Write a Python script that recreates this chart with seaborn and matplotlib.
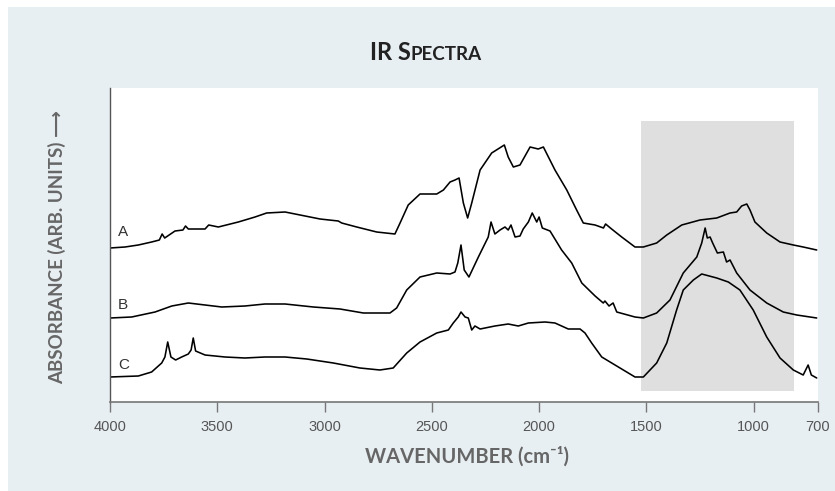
import numpy as np
import pandas as pd
import seaborn as sns
import matplotlib.pyplot as plt
from matplotlib.patches import Rectangle
from matplotlib.offsetbox import TextArea, HPacker, AnchoredOffsetbox

# spectra (wavenumber in cm-1, absorbance in arb. units, offset per trace)
wn_a = [4000, 3930, 3868, 3806, 3770, 3757, 3745, 3697, 3660, 3648, 3635, 3557, 3540, 3495, 3402, 3324, 3270,
        3184, 3114, 3021, 2936, 2920, 2850, 2757, 2672, 2648, 2610, 2555, 2477, 2446, 2415, 2392,
        2373, 2353, 2333, 2314, 2275, 2221, 2162, 2144, 2120, 2089, 2042, 2004, 1980, 1926, 1871,
        1825, 1794, 1739, 1700, 1690, 1662, 1615, 1553, 1514, 1452, 1405, 1335, 1250, 1172, 1110,
        1079, 1056, 1032, 1017, 994, 939, 877, 815, 769, 706]
abs_a = [1.54, 1.55, 1.57, 1.60, 1.62, 1.68, 1.64, 1.71, 1.72, 1.76, 1.73, 1.73, 1.77, 1.75, 1.80, 1.85, 1.89,
         1.90, 1.87, 1.83, 1.81, 1.79, 1.75, 1.70, 1.68, 1.79, 1.97, 2.08, 2.08, 2.12, 2.20, 2.22,
         2.24, 1.99, 1.84, 1.99, 2.32, 2.49, 2.57, 2.45, 2.35, 2.37, 2.55, 2.53, 2.55, 2.32, 2.12,
         1.92, 1.79, 1.77, 1.74, 1.78, 1.73, 1.65, 1.55, 1.55, 1.59, 1.67, 1.77, 1.82, 1.84, 1.89,
         1.90, 1.96, 1.98, 1.92, 1.80, 1.69, 1.60, 1.57, 1.55, 1.52]

wn_b = [4000, 3899, 3790, 3712, 3635, 3557, 3479, 3371, 3278, 3184, 3052, 2928, 2819, 2695, 2664,
        2617, 2555, 2477, 2415, 2392, 2379, 2364, 2349, 2327, 2283, 2237, 2224, 2206, 2182, 2159,
        2144, 2131, 2112, 2089, 2074, 2050, 2032, 2011, 2000, 1985, 1949, 1895, 1848, 1801, 1739,
        1701, 1693, 1674, 1655, 1638, 1553, 1514, 1452, 1390, 1328, 1265, 1242, 1226, 1216, 1203,
        1191, 1169, 1141, 1126, 1110, 1079, 1017, 939, 862, 799, 706]
abs_b = [0.84, 0.85, 0.90, 0.96, 0.99, 0.97, 0.95, 0.96, 0.98, 0.98, 0.95, 0.93, 0.89, 0.89, 0.94,
         1.12, 1.25, 1.29, 1.28, 1.30, 1.39, 1.57, 1.32, 1.25, 1.45, 1.65, 1.80, 1.68, 1.72, 1.75,
         1.72, 1.77, 1.65, 1.66, 1.73, 1.80, 1.89, 1.80, 1.85, 1.74, 1.71, 1.52, 1.39, 1.19, 1.06,
         0.99, 1.01, 0.96, 0.99, 0.90, 0.85, 0.84, 0.89, 1.02, 1.29, 1.45, 1.59, 1.74, 1.64, 1.65,
         1.59, 1.49, 1.50, 1.40, 1.42, 1.29, 1.12, 0.99, 0.90, 0.87, 0.84]

wn_c = [4000, 3868, 3806, 3759, 3744, 3731, 3716, 3694, 3666, 3635, 3622, 3612, 3601, 3557, 3464,
        3371, 3278, 3184, 3083, 2959, 2835, 2742, 2680, 2617, 2555, 2477, 2423, 2400, 2377, 2364,
        2345, 2330, 2314, 2299, 2275, 2206, 2144, 2097, 2050, 1972, 1926, 1864, 1809, 1786, 1755,
        1708, 1646, 1553, 1514, 1452, 1405, 1359, 1328, 1281, 1242, 1172, 1118, 1064, 1002, 939,
        877, 815, 769, 746, 731, 706]
abs_c = [0.25, 0.26, 0.30, 0.39, 0.45, 0.60, 0.45, 0.42, 0.45, 0.48, 0.52, 0.64, 0.51, 0.47, 0.45,
         0.44, 0.45, 0.45, 0.43, 0.39, 0.34, 0.32, 0.34, 0.49, 0.60, 0.69, 0.72, 0.79, 0.85, 0.90,
         0.85, 0.84, 0.72, 0.76, 0.73, 0.76, 0.78, 0.76, 0.79, 0.80, 0.79, 0.73, 0.73, 0.69, 0.59,
         0.45, 0.37, 0.25, 0.25, 0.39, 0.59, 0.92, 1.12, 1.22, 1.28, 1.24, 1.20, 1.12, 0.92, 0.65,
         0.44, 0.32, 0.27, 0.37, 0.27, 0.24]

labels = ["A", "B", "C"]
label_y = [1.70, 0.97, 0.37]
ticks = [4000, 3500, 3000, 2500, 2000, 1500, 1000, 700]
band = [1525, 812]  # highlighted region

df = pd.concat([
    pd.DataFrame({"wn": wn_a, "abs": abs_a, "sample": "A"}),
    pd.DataFrame({"wn": wn_b, "abs": abs_b, "sample": "B"}),
    pd.DataFrame({"wn": wn_c, "abs": abs_c, "sample": "C"}),
])

sns.set_style("white")
plt.rcParams["font.family"] = ["Liberation Sans", "DejaVu Sans"]

fig = plt.figure(figsize=(8.35, 4.91), dpi=100, facecolor="white")
# light panel behind everything
fig.patches.append(Rectangle((8 / 835, 0), 1, 1 - 7 / 491, transform=fig.transFigure,
                             facecolor="#e8eff3", edgecolor="none", zorder=-10))

ax = fig.add_axes([110 / 835, 1 - 402 / 491, 708 / 835, 314 / 491])
ax.set_facecolor("white")

ax.axvspan(band[0], band[1], ymin=0.035, ymax=0.895, color="#dfdfdf", lw=0, zorder=0)

for s in labels:
    d = df[df["sample"] == s]
    sns.lineplot(data=d, x="wn", y="abs", ax=ax, color="black", lw=1.15,
                 estimator=None, sort=False, legend=False)

for s, y in zip(labels, label_y):
    ax.text(3962, y, s, fontsize=11, color="#333333", ha="left", va="center")

ax.set_xlim(4000, 700)
ax.set_ylim(0, 3.14)
ax.set_xticks(ticks)
ax.set_xticklabels([str(t) for t in ticks])
ax.set_yticks([])
ax.set_xlabel("")
ax.set_ylabel("")
ax.tick_params(axis="x", direction="out", length=7, width=1, color="#777777",
               labelsize=10.5, labelcolor="#555555", pad=6, bottom=True)
for side in ["top", "right"]:
    ax.spines[side].set_visible(False)
ax.spines["left"].set_color("#555555")
ax.spines["left"].set_linewidth(1)
ax.spines["bottom"].set_color("#777777")
ax.spines["bottom"].set_linewidth(1.2)

# axis titles
fig.text(467 / 835, 1 - 457 / 491, "WAVENUMBER (cm\u207b\u00b9)", ha="center", va="center",
         fontsize=14.5, fontweight="bold", color="#666666", family=["Lato", "DejaVu Sans"])
fig.text(57 / 835, 1 - 247 / 491, "ABSORBANCE (ARB. UNITS) \u27f6", ha="center", va="center",
         rotation=90, fontsize=13.5, fontweight="bold", color="#666666", family=["Lato", "DejaVu Sans"])

# small caps title
big = dict(size=17, weight="bold", color="#222222", family="Lato")
small = dict(size=13.5, weight="bold", color="#222222", family="Lato")
title = HPacker(children=[TextArea("IR S", textprops=big), TextArea("PECTRA", textprops=small)],
                align="baseline", pad=0, sep=0)
fig.add_artist(AnchoredOffsetbox(loc="center", child=title, frameon=False, pad=0, borderpad=0,
                                 bbox_to_anchor=(426 / 835, 1 - 53 / 491),
                                 bbox_transform=fig.transFigure))

fig.savefig("out.png", dpi=100, facecolor=fig.get_facecolor())
